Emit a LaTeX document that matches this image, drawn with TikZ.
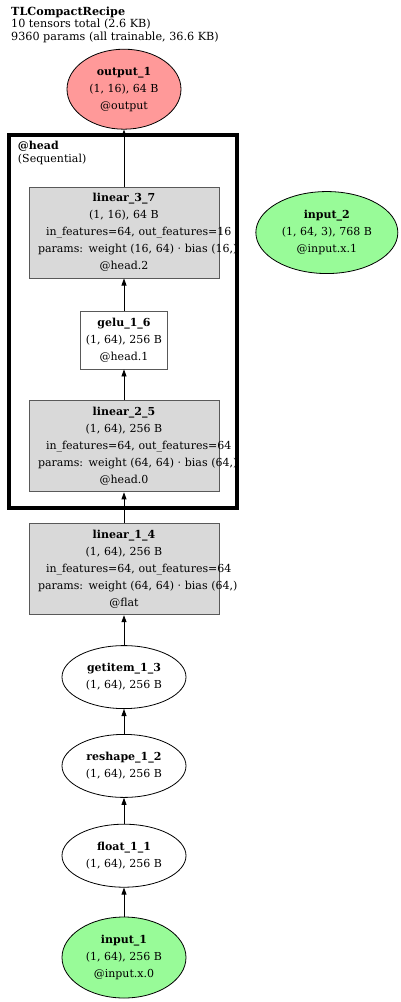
\documentclass[tikz,border=0pt]{standalone}
\usepackage{fontspec}
\setmainfont{DejaVu Serif}
\usetikzlibrary{arrows.meta, positioning, fit, shapes.geometric}

\definecolor{inputgreen}{RGB}{152,251,152}
\definecolor{outputred}{RGB}{255,153,153}
\definecolor{layergray}{RGB}{217,217,217}

% long label line: starts at the left of the text block, runs over on the right
\newcommand{\longline}[1]{\makebox[172pt][l]{#1}}

\begin{document}
\begin{tikzpicture}[
      x=1pt, y=-1pt,
      node distance=29pt and 36pt,
      every node/.style={font=\fontsize{11}{17}\selectfont},
      layer/.style={draw=black!65, fill=layergray, line width=0.9pt, minimum width=190pt, minimum height=91pt, text width=172pt, align=center, inner sep=0pt},
      act/.style={draw=black!65, fill=white, line width=0.9pt, minimum width=87pt, minimum height=58pt, align=center, inner sep=0pt},
      op/.style={ellipse, draw, line width=0.8pt, minimum width=124pt, minimum height=63pt, align=center, inner sep=0pt},
      inp/.style={op, fill=inputgreen, minimum height=81pt},
      outp/.style={op, fill=outputred, minimum width=114pt, minimum height=80pt},
      cluster/.style={draw, line width=4.5pt, inner sep=0pt},
      arrow/.style={-{Triangle[length=7pt, width=5pt]}, line width=0.8pt}
  ]
    \useasboundingbox (0,0) rectangle (400,1002);

    \node[anchor=north west, align=left, inner sep=0pt, font=\fontsize{11.2}{12.2}\selectfont] (title) at (11,7)
      {\textbf{TLCompactRecipe}\\10 tensors total (2.6 KB)\\9360 params (all trainable, 36.6 KB)};

    \node[inp] (in1) at (124,957.5) {\textbf{input\_1}\\(1, 64), 256 B\\@input.x.0};
    \node[op, above=of in1] (flt11) {\textbf{float\_1\_1}\\(1, 64), 256 B};
    \node[op, above=26pt of flt11] (resh12) {\textbf{reshape\_1\_2}\\(1, 64), 256 B};
    \node[op, above=25pt of resh12] (get13) {\textbf{getitem\_1\_3}\\(1, 64), 256 B};
    \node[layer, above=30pt of get13] (lin14) {\textbf{linear\_1\_4}\\(1, 64), 256 B\\\longline{\hspace{8pt}in\_features=64, out\_features=64}\\\longline{params: weight (64, 64) · bias (64,)}\\@flat};
    \node[layer, above=31pt of lin14] (lin25) {\textbf{linear\_2\_5}\\(1, 64), 256 B\\\longline{\hspace{8pt}in\_features=64, out\_features=64}\\\longline{params: weight (64, 64) · bias (64,)}\\@head.0};
    \node[act, above=31pt of lin25] (gelu16) {\textbf{gelu\_1\_6}\\(1, 64), 256 B\\@head.1};
    \node[layer, above=32pt of gelu16] (lin37) {\textbf{linear\_3\_7}\\(1, 16), 64 B\\\longline{\hspace{8pt}in\_features=64, out\_features=16}\\\longline{params: weight (16, 64) · bias (16,)}\\@head.2};
    \node[outp, above=57pt of lin37] (out1) {\textbf{output\_1}\\(1, 16), 64 B\\@output};

    \node[inp, minimum width=142pt, minimum height=82pt, right=of lin37] (in2) {\textbf{input\_2}\\(1, 64, 3), 768 B\\@input.x.1};

    % submodule frame
    \node[cluster, fit={(9,135) (237,508)}] (head) {};
    \node[anchor=north west, align=left, inner sep=0pt, font=\fontsize{11}{13}\selectfont] (headlbl) at ([shift={(11pt,-8pt)}]head.north west)
      {\textbf{@head}\\(Sequential)};

    \draw[arrow] (in1) -- (flt11);
    \draw[arrow] (flt11) -- (resh12);
    \draw[arrow] (resh12) -- (get13);
    \draw[arrow] (get13) -- (lin14);
    \draw[arrow] (lin14) -- (lin25);
    \draw[arrow] (lin25) -- (gelu16);
    \draw[arrow] (gelu16) -- (lin37);
    \draw[arrow] (lin37) -- (out1);
  \end{tikzpicture}
\end{document}
